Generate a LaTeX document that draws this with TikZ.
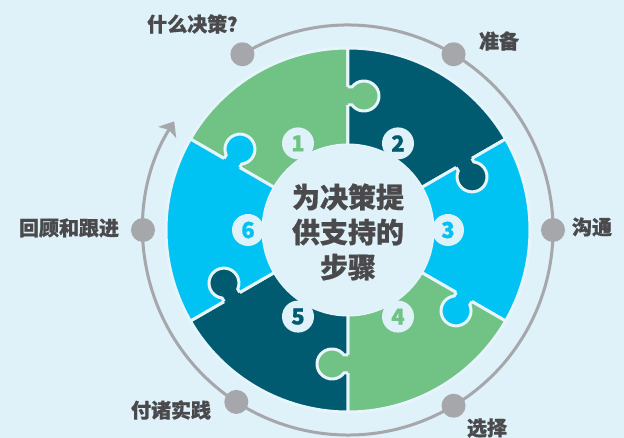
\documentclass[tikz,border=0pt]{standalone}
\usepackage{fontspec}
\setmainfont{Noto Sans CJK SC}[BoldFeatures={FakeBold=0.8}]
\usetikzlibrary{arrows.meta}
\definecolor{bgblue}{HTML}{DFF1F9}
\definecolor{pale}{HTML}{E6F5FB}
\definecolor{leaf}{HTML}{71C285}
\definecolor{deep}{HTML}{005A70}
\definecolor{sky}{HTML}{00C3F3}
\definecolor{ring}{HTML}{A6A7AB}
\definecolor{ink}{HTML}{4A4A4C}
\begin{document}
\begin{tikzpicture}[x=1pt,y=1pt,font=\bfseries,
  sep/.style={draw=pale,line width=3pt},
  knobline/.style={draw=pale,line width=3pt},
  badge/.style={circle,fill=bgblue,minimum size=32pt,inner sep=0pt,font=\fontsize{22}{22}\bfseries},
  dot/.style={circle,fill=ring,minimum size=24pt,inner sep=0pt},
  lbl/.style={text=ink,font=\fontsize{20}{22}\bfseries,inner sep=0pt}]
\fill[bgblue] (-348,-208) rectangle (276,230);
\useasboundingbox (-348,-208) rectangle (276,230);
\draw[sep,fill=leaf] (90:85) -- (90:182) arc[start angle=90,end angle=150,radius=182] -- (150:85) arc[start angle=150,end angle=90,radius=85] -- cycle;
\draw[sep,fill=deep] (30:85) -- (30:182) arc[start angle=30,end angle=90,radius=182] -- (90:85) arc[start angle=90,end angle=30,radius=85] -- cycle;
\draw[sep,fill=sky] (-30:85) -- (-30:182) arc[start angle=-30,end angle=30,radius=182] -- (30:85) arc[start angle=30,end angle=-30,radius=85] -- cycle;
\draw[sep,fill=leaf] (-90:85) -- (-90:182) arc[start angle=-90,end angle=-30,radius=182] -- (-30:85) arc[start angle=-30,end angle=-90,radius=85] -- cycle;
\draw[sep,fill=deep] (-150:85) -- (-150:182) arc[start angle=-150,end angle=-90,radius=182] -- (-90:85) arc[start angle=-90,end angle=-150,radius=85] -- cycle;
\draw[sep,fill=sky] (150:85) -- (150:182) arc[start angle=150,end angle=210,radius=182] -- (210:85) arc[start angle=210,end angle=150,radius=85] -- cycle;
\begin{scope}[shift={(90:134)},rotate=0]
\fill[leaf] (-2,-9) -- (4,-9) arc[start angle=-143.13,end angle=143.13,radius=15] -- (-2,9) -- cycle;
\draw[knobline] (0,-9) -- (4,-9) arc[start angle=-143.13,end angle=143.13,radius=15] -- (0,9);
\end{scope}
\begin{scope}[shift={(30:134)},rotate=-60]
\fill[deep] (-2,-9) -- (4,-9) arc[start angle=-143.13,end angle=143.13,radius=15] -- (-2,9) -- cycle;
\draw[knobline] (0,-9) -- (4,-9) arc[start angle=-143.13,end angle=143.13,radius=15] -- (0,9);
\end{scope}
\begin{scope}[shift={(-30:134)},rotate=-120]
\fill[sky] (-2,-9) -- (4,-9) arc[start angle=-143.13,end angle=143.13,radius=15] -- (-2,9) -- cycle;
\draw[knobline] (0,-9) -- (4,-9) arc[start angle=-143.13,end angle=143.13,radius=15] -- (0,9);
\end{scope}
\begin{scope}[shift={(-90:134)},rotate=-180]
\fill[leaf] (-2,-9) -- (4,-9) arc[start angle=-143.13,end angle=143.13,radius=15] -- (-2,9) -- cycle;
\draw[knobline] (0,-9) -- (4,-9) arc[start angle=-143.13,end angle=143.13,radius=15] -- (0,9);
\end{scope}
\begin{scope}[shift={(-150:134)},rotate=120]
\fill[deep] (-2,-9) -- (4,-9) arc[start angle=-143.13,end angle=143.13,radius=15] -- (-2,9) -- cycle;
\draw[knobline] (0,-9) -- (4,-9) arc[start angle=-143.13,end angle=143.13,radius=15] -- (0,9);
\end{scope}
\begin{scope}[shift={(150:134)},rotate=60]
\fill[sky] (-2,-9) -- (4,-9) arc[start angle=-143.13,end angle=143.13,radius=15] -- (-2,9) -- cycle;
\draw[knobline] (0,-9) -- (4,-9) arc[start angle=-143.13,end angle=143.13,radius=15] -- (0,9);
\end{scope}
\fill[bgblue] (0,0) circle[radius=85];
\node[badge,text=leaf] (n1) at (120:100) {1};
\node[badge,text=deep] (n2) at (60:100) {2};
\node[badge,text=sky] (n3) at (0:100) {3};
\node[badge,text=leaf] (n4) at (-60:100) {4};
\node[badge,text=deep] (n5) at (-120:100) {5};
\node[badge,text=sky] (n6) at (180:100) {6};
\node[text=ink,align=center,font=\fontsize{28}{35}\bfseries] (title) at (0,-2) {为决策提\\供支持的\\步骤};
\draw[ring,line width=3pt,-{Stealth[length=13pt,width=21pt,inset=3pt]}] (121:205) arc[start angle=121,end angle=-212,radius=205];
\node[dot] (d1) at (121:205) {};
\node[dot] (d2) at (59:205) {};
\node[dot] (d3) at (0:205) {};
\node[dot] (d4) at (-59:205) {};
\node[dot] (d5) at (-123:205) {};
\node[dot] (d6) at (180:205) {};
\node[lbl,anchor=west] (l1) at (-201,206) {什么决策？};
\node[lbl] (l2) at (151,189) {准备};
\node[lbl] (l3) at (244,3) {沟通};
\node[lbl] (l4) at (139,-198) {选择};
\node[lbl] (l5) at (-177,-180) {付诸实践};
\node[lbl] (l6) at (-279,2) {回顾和跟进};
\end{tikzpicture}
\end{document}
